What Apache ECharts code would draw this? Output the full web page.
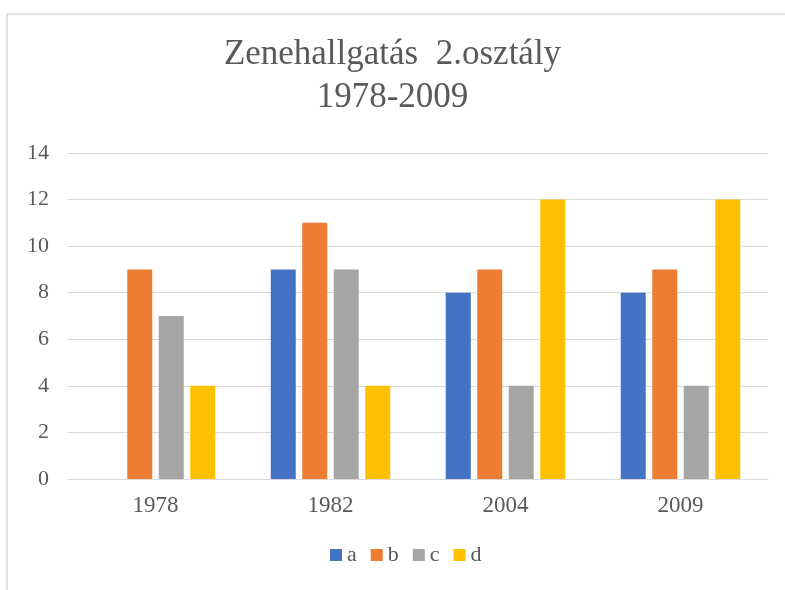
<!DOCTYPE html>
<html>
<head>
<meta charset="utf-8">
<script src="https://cdn.jsdelivr.net/npm/echarts@6/dist/echarts.min.js"></script>
<style>
  html, body { margin: 0; padding: 0; background: #fff; }
  #main { width: 785px; height: 590px; }
</style>
</head>
<body>
<div id="main"></div>
<script>
// chart data
const years = ['1978', '1982', '2004', '2009'];
const seriesNames = ['a', 'b', 'c', 'd'];
const aValues = [0, 9, 8, 8];
const bValues = [9, 11, 9, 9];
const cValues = [7, 9, 4, 4];
const dValues = [4, 4, 12, 12];
const colors = ['#4472C4', '#ED7D31', '#A5A5A5', '#FFC000'];

const textColor = '#595959';
const font = '"Liberation Serif", "Times New Roman", serif';

const allValues = [aValues, bValues, cValues, dValues];

const chart = echarts.init(document.getElementById('main'));

const option = {
  animation: false,
  backgroundColor: '#fff',
  textStyle: { fontFamily: font },
  graphic: [
    {
      // chart frame, only the left and top edges fall inside the picture
      type: 'polyline',
      shape: { points: [[7, 600], [7, 14], [900, 14]] },
      style: { fill: 'none', stroke: '#d9d9d9', lineWidth: 1.5 },
      silent: true
    }
  ],
  title: {
    text: 'Zenehallgatás  2.osztály\n1978-2009',
    left: 'center',
    top: 28,
    textStyle: {
      fontFamily: font,
      fontWeight: 'normal',
      fontSize: 35,
      lineHeight: 43,
      color: textColor
    }
  },
  legend: {
    data: seriesNames,
    bottom: 19,
    left: 325,
    icon: 'rect',
    itemWidth: 12,
    itemHeight: 12,
    itemGap: 14,
    textStyle: { fontFamily: font, fontSize: 22, color: textColor }
  },
  grid: {
    left: 68,
    right: 17,
    top: 153,
    bottom: 111
  },
  xAxis: {
    type: 'category',
    data: years,
    axisLine: { lineStyle: { color: '#d9d9d9', width: 1 } },
    axisTick: { show: false },
    axisLabel: { fontFamily: font, fontSize: 23, color: textColor, margin: 15 }
  },
  yAxis: {
    type: 'value',
    min: 0,
    max: 14,
    interval: 2,
    axisLine: { show: false },
    axisTick: { show: false },
    axisLabel: { fontFamily: font, fontSize: 22, color: textColor, margin: 19 },
    splitLine: { lineStyle: { color: '#d9d9d9', width: 1 } }
  },
  series: seriesNames.map((name, i) => ({
    name: name,
    type: 'bar',
    data: allValues[i],
    barWidth: 25,
    barGap: '26%',
    itemStyle: { color: colors[i] }
  }))
};

chart.setOption(option);
</script>
</body>
</html>
